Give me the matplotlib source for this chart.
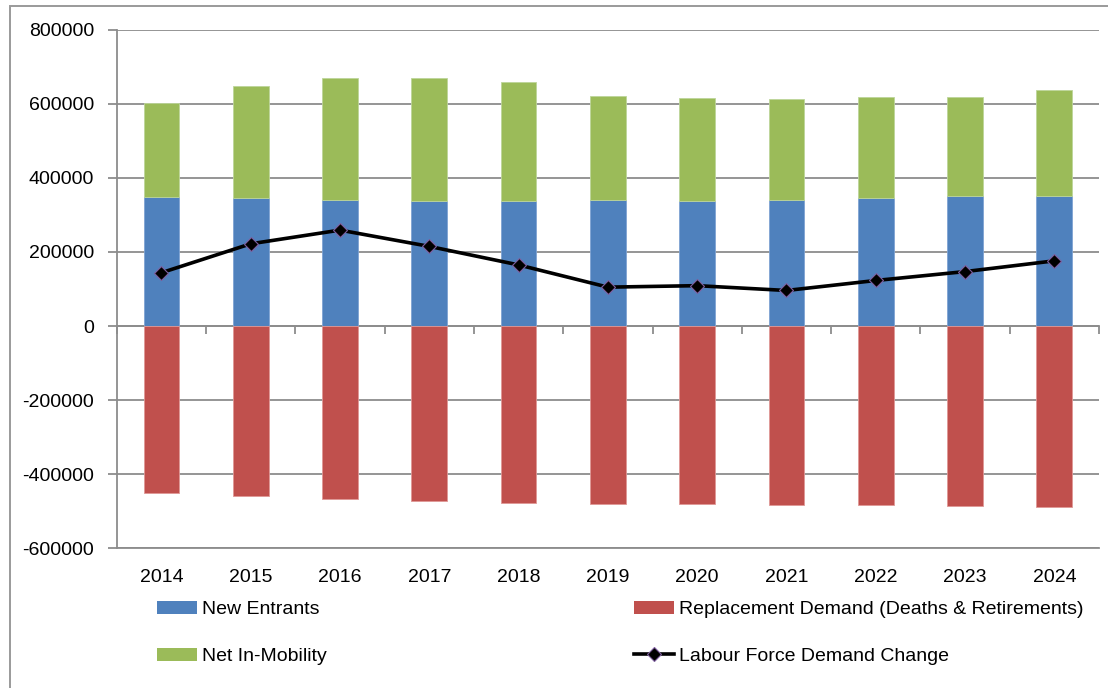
import matplotlib
matplotlib.use("Agg")
import matplotlib.pyplot as plt
from matplotlib.patches import Rectangle
from matplotlib.lines import Line2D
from matplotlib.patches import Patch
import numpy as np

years = ["2014", "2015", "2016", "2017", "2018", "2019", "2020", "2021", "2022", "2023", "2024"]
new_entrants = [348000, 346000, 341000, 338000, 338000, 339000, 338000, 341000, 345000, 350000, 351000]
net_in_mobility_top = [601000, 649000, 669000, 670000, 660000, 620000, 615000, 613000, 618000, 618000, 636000]
replacement = [-450000, -458000, -466000, -472000, -477000, -480000, -481000, -483000, -484000, -485000, -488000]
labour_change = [144000, 222000, 259000, 215000, 165000, 105000, 109000, 96000, 123000, 147000, 176000]

net_in_mobility = [t - n for t, n in zip(net_in_mobility_top, new_entrants)]

plt.rcParams['font.family'] = ['Liberation Sans', 'DejaVu Sans']
FS = 14

W, H = 1108, 688
fig = plt.figure(figsize=(W / 100, H / 100), dpi=100)
ax = fig.add_axes([116.8 / W, 1 - 548.3 / H, (1099 - 116.8) / W, (548.3 - 29.7) / H])

x = np.arange(len(years))
blue, red, green = "#4F81BD", "#C0504D", "#9BBB59"
bw = 0.4
ax.bar(x, new_entrants, width=bw, color=blue, edgecolor="#7FA3D3", linewidth=0.6, zorder=2)
ax.bar(x, replacement, width=bw, color=red, edgecolor="#E09896", linewidth=0.6, zorder=2)
ax.bar(x, net_in_mobility, bottom=new_entrants, width=bw, color=green, edgecolor="#BDD69A", linewidth=0.6, zorder=2)
ax.plot(x, labour_change, color="black", linewidth=2.6, marker="D", markersize=7,
        markerfacecolor="black", markeredgecolor="#7F5FA0", markeredgewidth=0.8, zorder=4)

ax.set_xlim(-0.5, len(years) - 0.5)
ax.set_ylim(-600000, 800000)
ax.set_yticks(np.arange(-600000, 800001, 200000))
ax.set_yticklabels([str(v) for v in range(-600000, 800001, 200000)])
ax.set_xticks(x)
ax.set_xticklabels(years)
ax.yaxis.grid(True, color="#8C8C8C", linewidth=1.3, zorder=0)
ax.set_axisbelow(True)
for s in ["top", "right"]:
    ax.spines[s].set_visible(False)
ax.spines["left"].set_color("#8C8C8C")
ax.spines["left"].set_linewidth(1.3)
ax.spines["bottom"].set_color("#8C8C8C")
ax.spines["bottom"].set_linewidth(1.3)
ax.tick_params(axis="y", direction="out", length=6.5, width=1.3, color="#8C8C8C",
               labelsize=FS, pad=10, labelcolor="black")
ax.tick_params(axis="x", length=0, labelsize=FS, pad=15, labelcolor="black")

# category axis line at zero with boundary ticks
zero_frac = (0 - (-600000)) / (800000 - (-600000))
sec = ax.secondary_xaxis(zero_frac)
sec.set_xticks(np.arange(-0.5, len(years), 1.0))
sec.set_xticklabels([])
sec.tick_params(axis="x", direction="out", length=6, width=1.3, color="#8C8C8C")
sec.spines["bottom"].set_color("#8C8C8C")
sec.spines["bottom"].set_linewidth(1.3)

# outer chart border
fig.patches.append(Rectangle((10 / W, -0.05), 1.1, 1 - 5.7 / H + 0.05, transform=fig.transFigure,
                             fill=False, edgecolor="#9A9A9A", linewidth=1.4))

leg_kw = dict(frameon=False, fontsize=FS, handlelength=2.05, handleheight=0.68,
              handletextpad=0.25, labelspacing=1.5, borderpad=0, borderaxespad=0)
h1 = [Patch(facecolor=blue, label="New Entrants"), Patch(facecolor=green, label="Net In-Mobility")]
h2 = [Patch(facecolor=red, label="Replacement Demand (Deaths & Retirements)"),
      Line2D([], [], color="black", linewidth=2.6, marker="D", markersize=7, markerfacecolor="black",
             markeredgecolor="#7F5FA0", markeredgewidth=0.8, label="Labour Force Demand Change")]
fig.legend(handles=h1, loc="upper left", bbox_to_anchor=(157 / W, 1 - 601 / H), **leg_kw)
fig.legend(handles=h2, loc="upper left", bbox_to_anchor=(634 / W, 1 - 601 / H), **leg_kw)

fig.savefig("out.png", dpi=100)
